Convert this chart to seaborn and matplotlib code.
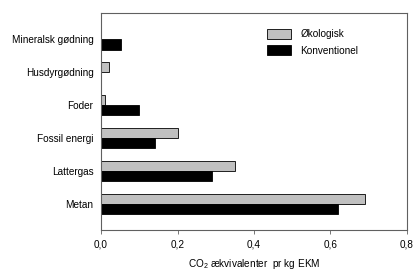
import pandas as pd
import seaborn as sns
import matplotlib.pyplot as plt

sns.set_style('white')
plt.rcParams['font.family'] = ['Liberation Sans', 'DejaVu Sans']
plt.rcParams['mathtext.fontset'] = 'custom'
plt.rcParams['mathtext.rm'] = 'Liberation Sans'
plt.rcParams['text.color'] = 'black'
plt.rcParams['axes.labelcolor'] = 'black'
plt.rcParams['xtick.color'] = 'black'
plt.rcParams['ytick.color'] = 'black'

# Data
kategorier = ['Mineralsk gødning', 'Husdyrgødning', 'Foder', 'Fossil energi', 'Lattergas', 'Metan']
oekologisk = [0.0, 0.022, 0.01, 0.20, 0.35, 0.69]
konventionel = [0.052, 0.0, 0.10, 0.14, 0.29, 0.62]
x_ticks = [0.0, 0.2, 0.4, 0.6, 0.8]
x_labels = ['0,0', '0,2', '0,4', '0,6', '0,8']

df = pd.DataFrame({
    'kilde': kategorier * 2,
    'værdi': oekologisk + konventionel,
    'type': ['Økologisk'] * len(kategorier) + ['Konventionel'] * len(kategorier),
})

fig, ax = plt.subplots(figsize=(4.14, 2.72), dpi=100)
fig.subplots_adjust(left=0.244, right=0.983, top=0.952, bottom=0.154)

sns.barplot(data=df, y='kilde', x='værdi', hue='type', order=kategorier,
            hue_order=['Økologisk', 'Konventionel'],
            palette=['#c0c0c0', '#000000'], width=0.62,
            edgecolor='black', linewidth=0.6, ax=ax)

ax.set_xlim(0, 0.8)
ax.set_ylim(5.8, -0.8)
ax.set_xticks(x_ticks)
ax.set_xticklabels(x_labels, fontsize=7.2)
ax.tick_params(axis='x', bottom=True, length=3, width=0.6, color='#606060', pad=3.5)
ax.tick_params(axis='y', left=False, labelsize=7.2, pad=2)
ax.set_ylabel('')
ax.set_xlabel('CO$_\\mathregular{2}$ ækvivalenter  pr kg EKM', fontsize=7.2, labelpad=6)

for s in ax.spines.values():
    s.set_color('#606060')
    s.set_linewidth(0.8)

ax.legend(loc='upper right', bbox_to_anchor=(0.87, 0.97), frameon=False, fontsize=7.2,
          handlelength=2.4, handleheight=1.2, handletextpad=0.9, labelspacing=0.6)

plt.savefig('out.png', dpi=100)
